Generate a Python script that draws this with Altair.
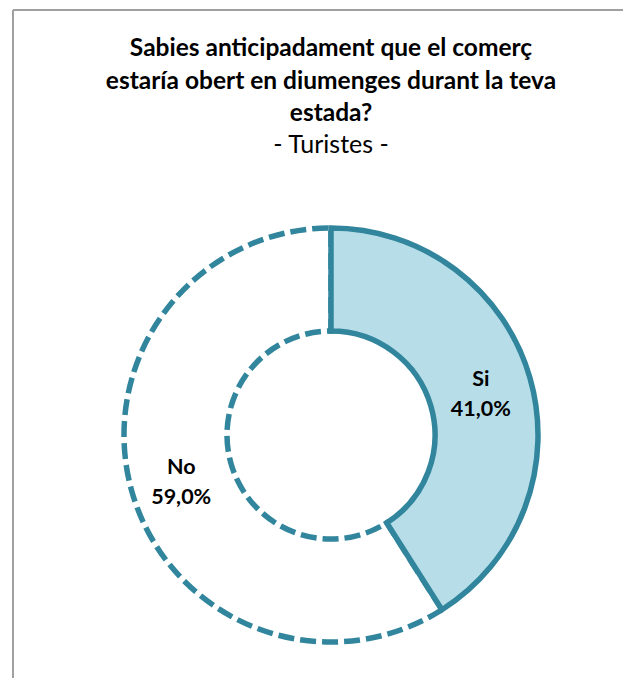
import altair as alt
import pandas as pd

categories = ["Si", "No"]
values = [41.0, 59.0]
value_labels = ["41,0%", "59,0%"]
title_lines = [
    "Sabies anticipadament que el comerç",
    "estaría obert en diumenges durant la teva",
    "estada?",
]
subtitle = "- Turistes -"

STROKE = "#31859C"
FILL = "#B7DEE8"
FONT = "Lato"
W, H = 615, 670
CX, CY = 323, 427

df = pd.DataFrame({
    "cat": categories,
    "val": values,
    "order": list(range(len(categories))),
    "label": [f"{c}\n{v}" for c, v in zip(categories, value_labels)],
})

base = (
    alt.Chart(df)
    .transform_stack(stack="val", as_=["start", "end"], groupby=[],
                     sort=[alt.SortField("order", order="ascending")])
    .transform_calculate(mid="(datum.start + datum.end) / 2")
)

theta_scale = alt.Scale(domain=[0, 100])

no_arc = base.transform_filter(alt.datum.cat == "No").mark_arc(
    outerRadius=207, innerRadius=104, fill="white", stroke=STROKE,
    strokeWidth=5.5, strokeDash=[16, 6]
).encode(
    theta=alt.Theta("start:Q", scale=theta_scale),
    theta2="end:Q",
    x=alt.value(CX), y=alt.value(CY),
)

si_arc = base.transform_filter(alt.datum.cat == "Si").mark_arc(
    outerRadius=207, innerRadius=104, fill=FILL, stroke=STROKE,
    strokeWidth=5.5
).encode(
    theta=alt.Theta("start:Q", scale=theta_scale),
    theta2="end:Q",
    x=alt.value(CX), y=alt.value(CY),
)

labels = base.mark_text(
    radius=156, font=FONT, fontSize=21.5, fontWeight="bold", color="black",
    lineBreak="\n", lineHeight=30, align="center", baseline="middle", dy=-11
).encode(
    theta=alt.Theta("mid:Q", scale=theta_scale),
    text="label:N",
    x=alt.value(CX), y=alt.value(CY),
)

title_layers = []
ys = [48, 80.5, 113, 145]
for i, line in enumerate(title_lines + [subtitle]):
    bold = i < len(title_lines)
    title_layers.append(
        alt.Chart(pd.DataFrame({"t": [line]})).mark_text(
            font=FONT, fontSize=24.5 if bold else 25,
            fontWeight="bold" if bold else "normal",
            color="black", align="center", baseline="alphabetic"
        ).encode(text="t:N", x=alt.value(CX), y=alt.value(ys[i]))
    )

frame_df = pd.DataFrame({"k": [0]})
left_rule = alt.Chart(frame_df).mark_rule(color="#A0A0A0", strokeWidth=2).encode(
    x=alt.value(5), y=alt.value(2), y2=alt.value(H + 40)
)
top_rule = alt.Chart(frame_df).mark_rule(color="#A0A0A0", strokeWidth=2).encode(
    x=alt.value(5), x2=alt.value(W + 40), y=alt.value(2), y2=alt.value(2)
)
edge_mask = alt.Chart(frame_df).mark_rect(color="white").encode(
    x=alt.value(W - 6), x2=alt.value(W + 2), y=alt.value(4), y2=alt.value(H + 2)
)

chart = alt.layer(
    left_rule, top_rule, edge_mask, no_arc, si_arc, labels, *title_layers
).properties(
    width=W, height=H, padding=0, autosize=alt.AutoSizeParams(type="none")
).configure_view(stroke=None, strokeWidth=0).resolve_scale(theta="shared")

chart.save("out.html", embed_options={"renderer": "svg", "actions": False})
